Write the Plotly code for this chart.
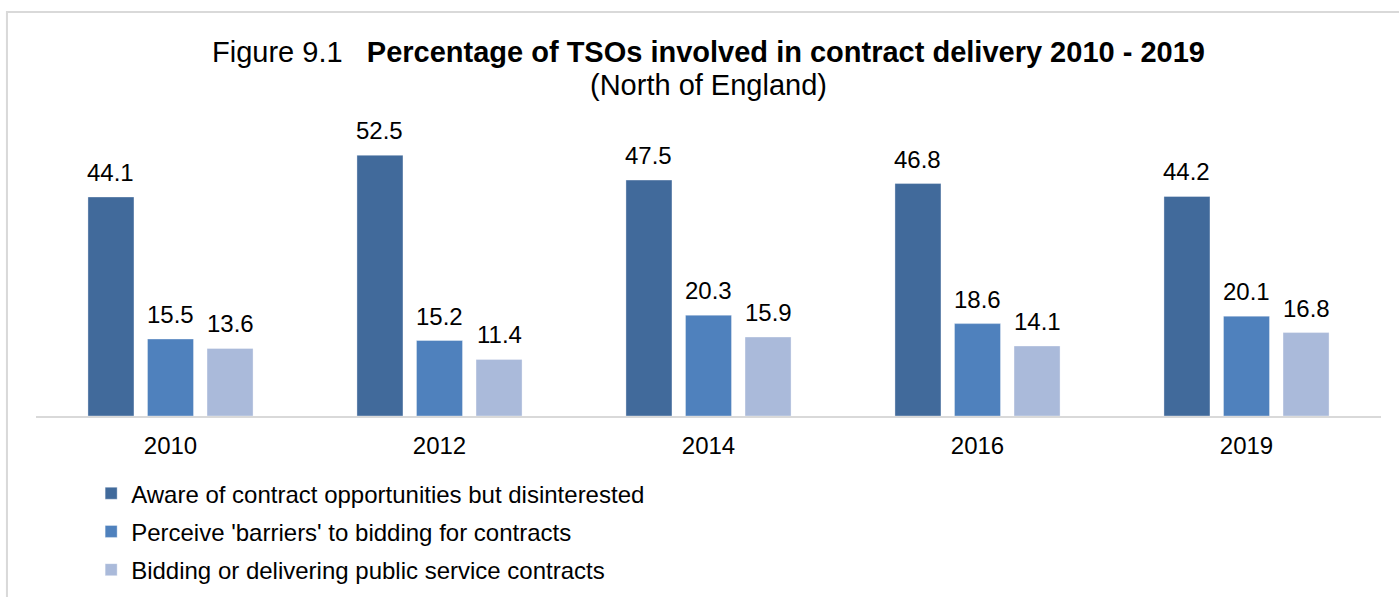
import plotly.graph_objects as go

years = ["2010", "2012", "2014", "2016", "2019"]
aware_disinterested = [44.1, 52.5, 47.5, 46.8, 44.2]
perceive_barriers = [15.5, 15.2, 20.3, 18.6, 20.1]
bidding_delivering = [13.6, 11.4, 15.9, 14.1, 16.8]

series = [
    ("Aware of contract opportunities but disinterested", aware_disinterested, "#416A9B"),
    ("Perceive 'barriers' to bidding for contracts", perceive_barriers, "#4F81BD"),
    ("Bidding or delivering public service contracts", bidding_delivering, "#AABADA"),
]

FONT = "Liberation Sans, Arial, sans-serif"
W, H = 1399, 597
M_L, M_R, M_T, M_B = 36, 18, 118, 181
plot_w = W - M_L - M_R
plot_h = H - M_T - M_B
BARGAP = 0.336
slot_px = plot_w / len(years) * (1 - BARGAP) / len(series)

fig = go.Figure()
annotations = []
for i, (name, vals, color) in enumerate(series):
    fig.add_trace(go.Bar(
        x=years, y=vals, name=name,
        marker=dict(color=color, line=dict(color="rgba(255,255,255,0.35)", width=1)),
        legendgroup=f"g{i}",
    ))
    # value labels above each bar; x is the category index, shifted to the bar's slot
    for j, v in enumerate(vals):
        annotations.append(dict(
            x=j, y=v, xref="x", yref="y",
            text=f"{v:.1f}", showarrow=False,
            xanchor="center", yanchor="bottom",
            xshift=(i - 1) * slot_px, yshift=9,
            font=dict(size=24, family=FONT, color="#000000"),
        ))

# subtitle line under the main title
annotations.append(dict(
    x=0.5, y=(H - M_B - 85) / plot_h, xref="paper", yref="paper",
    text="(North of England)", showarrow=False,
    xanchor="center", yanchor="middle",
    font=dict(size=29, family=FONT, color="#000000"),
))

fig.update_layout(
    width=W, height=H,
    margin=dict(l=M_L, r=M_R, t=M_T, b=M_B, autoexpand=False),
    paper_bgcolor="white", plot_bgcolor="white",
    font=dict(family=FONT, color="#000000"),
    barmode="group", bargap=BARGAP, bargroupgap=0.227,
    title=dict(
        text="Figure 9.1&nbsp;&nbsp;&nbsp;<b>Percentage of TSOs involved in contract delivery 2010 - 2019</b>",
        x=0.5, xref="paper", xanchor="center",
        y=1 - 52 / H, yref="container", yanchor="middle",
        font=dict(size=29, family=FONT, color="#000000"),
    ),
    xaxis=dict(
        type="category", categoryorder="array", categoryarray=years,
        range=[-0.5, len(years) - 0.5],
        showline=True, linecolor="#D9D9D9", linewidth=2,
        ticks="outside", ticklen=7, tickcolor="rgba(0,0,0,0)",
        tickfont=dict(size=24, family=FONT, color="#000000"),
        showgrid=False, zeroline=False,
    ),
    yaxis=dict(range=[0, 60], visible=False, showgrid=False, zeroline=False),
    showlegend=True,
    legend=dict(
        orientation="v", x=0.041, xanchor="left", y=-0.185, yanchor="top",
        font=dict(size=24, family=FONT, color="#000000"),
        tracegroupgap=4, bgcolor="rgba(0,0,0,0)",
    ),
    annotations=annotations,
    shapes=[dict(
        type="rect", xref="paper", yref="paper",
        x0=-0.0216, x1=1.1, y0=-1.0, y1=(H - M_B - 12) / plot_h,
        line=dict(color="#D9D9D9", width=2), layer="below",
    )],
)

fig.write_html("out.html")
